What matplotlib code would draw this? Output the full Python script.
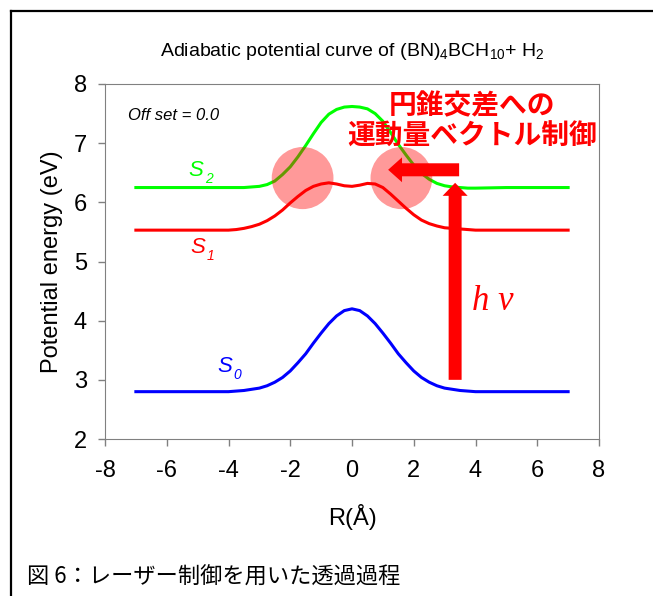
import matplotlib
matplotlib.use("Agg")
import matplotlib.pyplot as plt
from matplotlib.patches import Ellipse, FancyArrow
from matplotlib.lines import Line2D

plt.rcParams['font.family'] = ['Liberation Sans', 'Noto Sans CJK JP', 'DejaVu Sans']
plt.rcParams['mathtext.fontset'] = 'custom'
plt.rcParams['mathtext.rm'] = 'Liberation Sans'
plt.rcParams['mathtext.it'] = 'Liberation Sans:italic'
plt.rcParams['axes.unicode_minus'] = False

# 反応座標 R (Å)
r = [-7, -5, -4, -3.75, -3.5, -3.25, -3, -2.75, -2.5, -2.25, -2, -1.75, -1.5,
     -1.25, -1, -0.75, -0.5, -0.25, 0, 0.25, 0.5, 0.75, 1, 1.25, 1.5, 1.75,
     2, 2.25, 2.5, 2.75, 3, 3.25, 3.5, 3.75, 4, 5, 7]

# ポテンシャルエネルギー (eV)
s0 = [2.80, 2.80, 2.80, 2.81, 2.82, 2.84, 2.86, 2.90, 2.96, 3.04, 3.15, 3.29, 3.44,
      3.62, 3.79, 3.95, 4.08, 4.17, 4.20, 4.17, 4.08, 3.95, 3.79, 3.62, 3.44, 3.29,
      3.15, 3.04, 2.96, 2.90, 2.86, 2.84, 2.82, 2.81, 2.80, 2.80, 2.80]
s1 = [5.53, 5.53, 5.53, 5.54, 5.56, 5.59, 5.63, 5.69, 5.77, 5.87, 5.99, 6.10, 6.20,
      6.27, 6.31, 6.33, 6.31, 6.28, 6.27, 6.29, 6.32, 6.31, 6.25, 6.14, 6.02, 5.90,
      5.79, 5.70, 5.64, 5.60, 5.57, 5.56, 5.55, 5.54, 5.53, 5.53, 5.53]
s2 = [6.25, 6.25, 6.25, 6.25, 6.25, 6.26, 6.27, 6.30, 6.36, 6.47, 6.60, 6.77, 6.96,
      7.16, 7.35, 7.49, 7.57, 7.61, 7.62, 7.61, 7.58, 7.50, 7.37, 7.18, 6.98, 6.80,
      6.63, 6.49, 6.39, 6.32, 6.28, 6.26, 6.25, 6.24, 6.24, 6.25, 6.25]

# 円錐交差の位置
ci_r = [-1.6, 1.6]
ci_e = [6.41, 6.41]

xticks = [-8, -6, -4, -2, 0, 2, 4, 6, 8]
yticks = [2, 3, 4, 5, 6, 7, 8]

fig = plt.figure(figsize=(6.53, 5.96), dpi=100)
ax = fig.add_axes([105/653, 1-439/596, 494/653, 355/596])

ax.plot(r, s0, color='#0000ff', lw=2.2, zorder=2)
ax.plot(r, s1, color='#ff0000', lw=2.2, zorder=2)
ax.plot(r, s2, color='#00ff00', lw=2.2, zorder=2)

for cx, cy in zip(ci_r, ci_e):
    ax.add_patch(Ellipse((cx, cy), 2.0, 1.05, facecolor='#ff0000', alpha=0.4,
                         edgecolor='none', zorder=3))

# 光励起 hν と運動量ベクトルの矢印
ax.add_patch(FancyArrow(3.34, 3.0, 0, 3.33, width=0.42, head_width=0.81,
                        head_length=0.22, length_includes_head=True,
                        color='#ff0000', lw=0, zorder=4))
ax.add_patch(FancyArrow(3.47, 6.55, -2.3, 0, width=0.22, head_width=0.42,
                        head_length=0.45, length_includes_head=True,
                        color='#ff0000', lw=0, zorder=4))

ax.text(-7.26, 7.46, 'Off set = 0.0', style='italic', fontsize=12, va='center')

# 状態ラベル (S と斜体の下付き数字)
labels = [('2', -5.31, 6.44, '#00ff00'), ('1', -5.25, 5.14, '#ff0000'),
          ('0', -4.37, 3.13, '#0000ff')]
for sub, lx, ly, c in labels:
    ax.text(lx, ly, 'S', color=c, fontsize=16, style='italic', va='baseline')
    ax.annotate(sub, xy=(lx, ly), xytext=(12, -5), textcoords='offset points',
                color=c, fontsize=10, style='italic', va='baseline')

ax.text(3.89, 7.62, '円錐交差への', color='#ff0000', fontsize=20, fontweight='bold',
        family='Noto Sans CJK JP', ha='center', va='center')
ax.text(3.89, 7.11, '運動量ベクトル制御', color='#ff0000', fontsize=20, fontweight='bold',
        family='Noto Sans CJK JP', ha='center', va='center')
ax.text(3.89, 4.33, 'h ν', color='#ff0000', fontsize=25, style='italic',
        family=['Liberation Serif', 'DejaVu Serif'], ha='left', va='center')

ax.set_xlim(-8, 8)
ax.set_ylim(2, 8)
ax.set_xticks(xticks)
ax.set_yticks(yticks)
for sp in ax.spines.values():
    sp.set_color('#808080')
ax.tick_params(direction='out', length=5, width=1, color='#808080',
               labelsize=17, pad=8)
ax.tick_params(axis='x', pad=10)
ax.set_xlabel('R(Å)', fontsize=17, labelpad=16)
ax.set_ylabel('Potential energy (eV)', fontsize=17, labelpad=8)

fig.text(352/653, 1-52/596, r'Adiabatic potential curve of (BN)$_4$BCH$_{10}$+ H$_2$',
         fontsize=14, ha='center', va='center')
fig.text(27/653, 1-577/596, '図 6：レーザー制御を用いた透過過程', fontsize=16,
         family='Noto Sans CJK JP', ha='left', va='center')

# 外枠（左と上）
fig.add_artist(Line2D([11/653, 11/653], [0, 1-11/596], transform=fig.transFigure,
                      color='black', lw=1.6))
fig.add_artist(Line2D([11/653, 1], [1-11/596, 1-11/596], transform=fig.transFigure,
                      color='black', lw=1.6))

fig.savefig('out.png', dpi=100)
